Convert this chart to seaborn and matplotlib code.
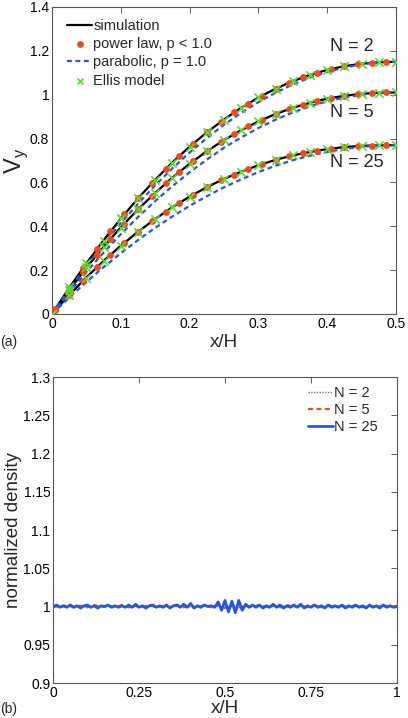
import matplotlib
matplotlib.use("Agg")
import matplotlib.pyplot as plt
import numpy as np
import pandas as pd
import seaborn as sns

sns.set_theme(style="white")
plt.rcParams['font.family'] = ['Liberation Sans', 'DejaVu Sans']
plt.rcParams['mathtext.fontset'] = 'custom'
plt.rcParams['mathtext.rm'] = 'Liberation Sans'

# ---- panel (a): velocity profiles ----
x_sim = [0.0, 0.025, 0.05, 0.075, 0.1, 0.125, 0.15, 0.175, 0.2, 0.225, 0.25,
         0.275, 0.3, 0.325, 0.35, 0.375, 0.4, 0.425, 0.45, 0.475, 0.5]
sim_n2 = [0.0, 0.119, 0.231, 0.336, 0.435, 0.527, 0.612, 0.691, 0.763, 0.828, 0.887,
          0.940, 0.987, 1.027, 1.062, 1.090, 1.113, 1.130, 1.141, 1.148, 1.150]
sim_n5 = [0.0, 0.109, 0.211, 0.306, 0.395, 0.477, 0.552, 0.622, 0.685, 0.742, 0.793,
          0.838, 0.878, 0.912, 0.940, 0.963, 0.982, 0.995, 1.004, 1.009, 1.010]
sim_n25 = [0.0, 0.086, 0.167, 0.242, 0.311, 0.375, 0.433, 0.487, 0.535, 0.578, 0.616,
           0.649, 0.678, 0.703, 0.723, 0.739, 0.752, 0.761, 0.767, 0.769, 0.770]

para_n2 = [0.0, 0.112, 0.219, 0.319, 0.414, 0.503, 0.587, 0.664, 0.736, 0.802, 0.863,
           0.917, 0.966, 1.009, 1.047, 1.078, 1.104, 1.124, 1.139, 1.147, 1.150]
para_n5 = [0.0, 0.098, 0.192, 0.280, 0.364, 0.442, 0.515, 0.583, 0.646, 0.704, 0.758,
           0.805, 0.848, 0.886, 0.919, 0.947, 0.970, 0.987, 1.000, 1.007, 1.010]
para_n25 = [0.0, 0.075, 0.146, 0.214, 0.277, 0.337, 0.393, 0.445, 0.493, 0.537, 0.578,
            0.614, 0.647, 0.676, 0.701, 0.722, 0.739, 0.753, 0.762, 0.768, 0.770]

# Ellis model sits on top of the simulation curves
ellis_n2 = [0.0, 0.121, 0.232, 0.335, 0.436, 0.528, 0.611, 0.690, 0.762, 0.828, 0.886,
            0.940, 0.988, 1.027, 1.061, 1.089, 1.112, 1.130, 1.141, 1.148, 1.150]
ellis_n5 = [0.0, 0.108, 0.212, 0.305, 0.394, 0.478, 0.551, 0.621, 0.686, 0.741, 0.792,
            0.838, 0.879, 0.911, 0.940, 0.963, 0.981, 0.995, 1.004, 1.009, 1.010]
ellis_n25 = [0.0, 0.087, 0.166, 0.243, 0.310, 0.376, 0.432, 0.487, 0.534, 0.578, 0.617,
             0.648, 0.678, 0.702, 0.723, 0.739, 0.751, 0.761, 0.767, 0.769, 0.770]

x_pow = [0.005, 0.025, 0.045, 0.065, 0.085, 0.105, 0.125, 0.145, 0.165, 0.185,
         0.205, 0.225, 0.245, 0.265, 0.285, 0.305, 0.325, 0.345, 0.365, 0.385,
         0.405, 0.425, 0.445, 0.465, 0.485]
pow_n2 = [0.024, 0.119, 0.209, 0.295, 0.377, 0.454, 0.527, 0.595, 0.660, 0.720,
          0.776, 0.828, 0.876, 0.920, 0.959, 0.995, 1.027, 1.055, 1.079, 1.100,
          1.117, 1.130, 1.140, 1.146, 1.149]
pow_n5 = [0.022, 0.109, 0.191, 0.269, 0.342, 0.411, 0.477, 0.538, 0.595, 0.648,
          0.697, 0.742, 0.783, 0.821, 0.855, 0.885, 0.912, 0.935, 0.955, 0.971,
          0.985, 0.995, 1.003, 1.007, 1.010]
pow_n25 = [0.018, 0.086, 0.151, 0.213, 0.270, 0.324, 0.375, 0.422, 0.466, 0.506,
           0.544, 0.578, 0.609, 0.636, 0.661, 0.683, 0.703, 0.719, 0.733, 0.745,
           0.754, 0.761, 0.765, 0.768, 0.770]

n_labels = ['N = 2', 'N = 5', 'N = 25']

# ---- panel (b): density profiles ----
x_dens = np.round(np.arange(0, 101) / 100, 2)
dens_n25 = [0.999, 1.002, 0.999, 1.001, 0.999, 1.002, 0.999, 1.001, 0.998, 1.001,
            1.002, 0.999, 1.001, 0.998, 1.001, 1.000, 1.002, 0.999, 1.001, 0.999,
            1.001, 0.999, 1.002, 0.999, 1.003, 0.999, 1.001, 0.998, 1.001, 1.002,
            0.999, 1.001, 0.999, 1.002, 0.998, 1.001, 1.002, 0.999, 1.003, 0.999,
            1.004, 0.998, 1.001, 0.999, 1.002, 1.000, 1.001, 0.999, 1.006, 0.995,
            1.008, 0.993, 1.007, 0.992, 1.008, 0.995, 1.003, 0.999, 1.002, 0.999,
            1.002, 0.998, 1.001, 0.999, 1.003, 0.999, 1.002, 0.998, 1.001, 0.999,
            1.002, 0.999, 1.003, 0.998, 1.001, 0.999, 1.002, 0.999, 1.001, 0.998,
            1.002, 0.999, 1.001, 0.999, 1.002, 0.998, 1.001, 0.999, 1.002, 0.999,
            1.001, 0.998, 1.002, 0.999, 1.001, 0.998, 1.002, 0.999, 1.001, 0.999, 1.000]
x_dens5 = np.round(np.arange(0, 51) / 50, 2)
dens_n5 = [1.001, 0.999, 1.002, 0.999, 1.001, 0.999, 1.002, 0.999, 1.001, 0.999,
           1.002, 0.999, 1.001, 0.999, 1.002, 0.999, 1.001, 0.999, 1.002, 0.999,
           1.001, 0.998, 1.002, 0.999, 1.002, 0.998, 1.002, 0.999, 1.001, 0.999,
           1.002, 0.999, 1.001, 0.999, 1.002, 0.999, 1.001, 0.999, 1.002, 0.999,
           1.002, 0.999, 1.001, 0.999, 1.002, 0.999, 1.001, 0.999, 1.002, 0.999, 1.001]
x_dens2 = np.round(np.arange(0, 21) / 20, 2)
dens_n2 = [1.000, 1.0005, 0.9995, 1.0005, 1.000, 0.9995, 1.0005, 1.000, 0.9995, 1.0005,
           1.000, 0.9995, 1.0005, 1.000, 0.9995, 1.0005, 1.000, 0.9995, 1.0005, 1.000, 1.000]

top_xticks = [0, 0.1, 0.2, 0.3, 0.4, 0.5]
top_xlabels = ['0', '0.1', '0.2', '0.3', '0.4', '0.5']
top_yticks = [0, 0.2, 0.4, 0.6, 0.8, 1.0, 1.2, 1.4]
top_ylabels = ['0', '0.2', '0.4', '0.6', '0.8', '1', '1.2', '1.4']
bot_xticks = [0, 0.25, 0.5, 0.75, 1.0]
bot_xlabels = ['0', '0.25', '0.5', '0.75', '1']
bot_yticks = [0.9, 0.95, 1.0, 1.05, 1.1, 1.15, 1.2, 1.25, 1.3]
bot_ylabels = ['0.9', '0.95', '1', '1.05', '1.1', '1.15', '1.2', '1.25', '1.3']

RED = '#ee4a1e'
BLUE = '#2457e0'
GREEN = '#5fd92c'

fig = plt.figure(figsize=(4.08, 7.18), dpi=100)
ax1 = fig.add_axes([0.1275, 0.5627, 0.843, 0.4276])
ax2 = fig.add_axes([0.13, 0.0487, 0.843, 0.4262])

# (a)
for i, ys in enumerate([sim_n2, sim_n5, sim_n25]):
    sns.lineplot(x=x_sim, y=ys, ax=ax1, color='black', linewidth=1.6, zorder=2,
                 label='simulation' if i == 0 else None)
for i, ys in enumerate([pow_n2, pow_n5, pow_n25]):
    sns.scatterplot(x=x_pow, y=ys, ax=ax1, color=RED, s=24, linewidth=0, zorder=4,
                    label='power law, p < 1.0' if i == 0 else None)
for i, ys in enumerate([para_n2, para_n5, para_n25]):
    sns.lineplot(x=x_sim, y=ys, ax=ax1, color=BLUE, linewidth=1.6, linestyle=(0, (2.2, 1.6)),
                 zorder=3, label='parabolic, p = 1.0' if i == 0 else None)
for i, ys in enumerate([ellis_n2, ellis_n5, ellis_n25]):
    sns.scatterplot(x=x_sim, y=ys, ax=ax1, color=GREEN, marker='x', s=36, linewidth=1.2,
                    zorder=5, label='Ellis model' if i == 0 else None)

for lab, ypos in zip(n_labels, [1.218, 0.921, 0.689]):
    ax1.text(0.404, ypos, lab, fontsize=13, ha='left', va='center')

ax1.set_xlim(0, 0.5)
ax1.set_ylim(0, 1.4)
ax1.set_xticks(top_xticks)
ax1.set_xticklabels(top_xlabels)
ax1.set_yticks(top_yticks)
ax1.set_yticklabels(top_ylabels)
ax1.set_xlabel('x/H', fontsize=13.5, labelpad=2)
ax1.set_ylabel(r'V$_{\rm y}$', fontsize=17, labelpad=0)
leg1 = ax1.legend(loc='upper left', frameon=False, fontsize=10.5, handlelength=1.7,
                  handletextpad=0.1, labelspacing=0.3, borderaxespad=0.4,
                  bbox_to_anchor=(0.01, 1.0), scatterpoints=1)
leg1.legend_handles[3].set_sizes([18])

# (b)
sns.lineplot(x=x_dens2, y=dens_n2, ax=ax2, color='#777777', linewidth=1.0,
             linestyle=(0, (1, 1)), label='N = 2', zorder=2)
sns.lineplot(x=x_dens5, y=dens_n5, ax=ax2, color=RED, linewidth=1.6,
             linestyle=(0, (2.2, 1.6)), label='N = 5', zorder=2)
sns.lineplot(x=x_dens, y=dens_n25, ax=ax2, color=BLUE, linewidth=2.0,
             label='N = 25', zorder=3)
ax2.set_xlim(0, 1)
ax2.set_ylim(0.9, 1.3)
ax2.set_xticks(bot_xticks)
ax2.set_xticklabels(bot_xlabels)
ax2.set_yticks(bot_yticks)
ax2.set_yticklabels(bot_ylabels)
ax2.set_xlabel('x/H', fontsize=13.5, labelpad=0)
ax2.set_ylabel('normalized density', fontsize=13.5, labelpad=1)
ax2.legend(loc='upper right', frameon=False, fontsize=10.5, handlelength=1.7,
           handletextpad=0.1, labelspacing=0.22, borderaxespad=0.2,
           bbox_to_anchor=(0.97, 1.0))

for ax in (ax1, ax2):
    ax.tick_params(direction='in', top=True, right=True, length=4, width=0.6,
                   pad=2, labelsize=10, colors='#444444', labelcolor='black')
    for sp in ax.spines.values():
        sp.set_color('#555555')
        sp.set_linewidth(0.8)

fig.text(0.0, 1 - 342 / 718, '(a)', fontsize=10, va='center', ha='left')
fig.text(0.0, 1 - 709 / 718, '(b)', fontsize=10, va='center', ha='left')

fig.savefig('out.png', dpi=100)
